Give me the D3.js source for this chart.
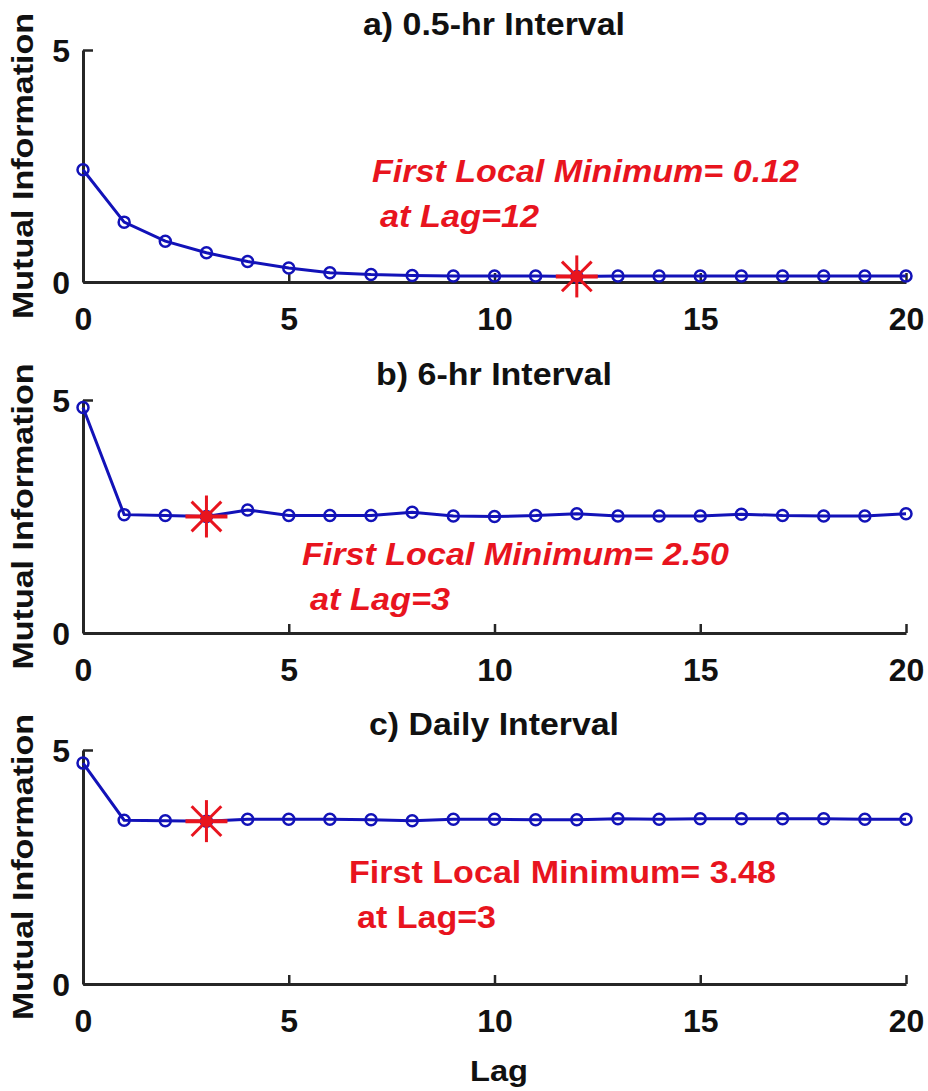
<!DOCTYPE html>
<html>
<head>
<meta charset="utf-8">
<script src="https://cdn.jsdelivr.net/npm/d3@7"></script>
<style>
  body { margin: 0; background: #fff; }
  text { font-family: "Liberation Sans", Arial, sans-serif; font-weight: bold; }
</style>
</head>
<body>
<script>
(function () {

    // lag values shared by all three panels
    let lags = d3.range(0, 21);

    // mutual information
    let miHalfHour = [2.42, 1.29, 0.88, 0.63, 0.44, 0.30, 0.20, 0.16, 0.14, 0.13, 0.13, 0.13, 0.12,
        0.13, 0.13, 0.13, 0.13, 0.13, 0.13, 0.13, 0.13];
    let miSixHour = [4.84, 2.54, 2.52, 2.50, 2.64, 2.52, 2.52, 2.52, 2.59, 2.51, 2.50, 2.52, 2.56,
        2.51, 2.51, 2.51, 2.55, 2.52, 2.51, 2.51, 2.56];
    let miDaily = [4.72, 3.50, 3.49, 3.48, 3.52, 3.52, 3.52, 3.51, 3.49, 3.52, 3.52, 3.51, 3.51,
        3.53, 3.52, 3.53, 3.53, 3.53, 3.53, 3.52, 3.52];

    let titles = ["a) 0.5-hr Interval", "b) 6-hr Interval", "c) Daily Interval"];
    let minLags = [12, 3, 3];
    let minLabels = ["First Local Minimum= 0.12", "First Local Minimum= 2.50", "First Local Minimum= 3.48"];
    let lagLabels = ["at Lag=12", "at Lag=3", "at Lag=3"];
    let xTicks = [0, 5, 10, 15, 20];
    let yTicks = [0, 5];

    let series = [miHalfHour, miSixHour, miDaily];

    // layout of each panel (pixel positions of the y=5 and y=0 lines)
    let panelTop = [50, 400, 750];
    let panelBottom = [282, 633, 984];
    let titleWidth = [262, 236, 250];
    let noteX = [372, 302, 349];
    let noteY = [182, 565, 883];
    let lagWidth = [159, 140, 139];
    let noteItalic = [true, true, false];

    let blue = "#1212b8";
    let red = "#e8141e";
    let axisColor = "#262626";

    let svg = d3.select("body").append("svg")
        .attr("width", 928)
        .attr("height", 1091);

    let xScale = d3.scaleLinear().domain([0, 20]).range([83, 906]);

    series.forEach((values, p) => {
        let yScale = d3.scaleLinear().domain([0, 5]).range([panelBottom[p], panelTop[p]]);
        let g = svg.append("g");

        // title
        g.append("text")
            .attr("x", 494)
            .attr("y", panelTop[p] - 15)
            .attr("text-anchor", "middle")
            .attr("font-size", 31)
            .attr("textLength", titleWidth[p])
            .attr("lengthAdjust", "spacingAndGlyphs")
            .attr("fill", "#111")
            .text(titles[p]);

        // axes, ticks point inward like matlab
        let xAxis = d3.axisBottom(xScale).tickValues(xTicks).tickSizeInner(-9).tickSizeOuter(0).tickPadding(25);
        let yAxis = d3.axisLeft(yScale).tickValues(yTicks).tickFormat(d3.format("d"))
            .tickSizeInner(-10).tickSizeOuter(0).tickPadding(13);

        let gx = g.append("g")
            .attr("transform", "translate(0," + panelBottom[p] + ")")
            .call(xAxis);
        let gy = g.append("g")
            .attr("transform", "translate(83,0)")
            .call(yAxis);

        [gx, gy].forEach((a) => {
            a.select(".domain").attr("stroke", axisColor).attr("stroke-width", 3);
            a.selectAll(".tick line").attr("stroke", axisColor).attr("stroke-width", 2.5);
            a.selectAll(".tick text")
                .attr("fill", "#111")
                .attr("font-size", 32)
                .attr("font-weight", "bold")
                .attr("font-family", "Liberation Sans, Arial, sans-serif");
        });
        gx.selectAll(".tick text").attr("dy", "0.72em");
        gy.selectAll(".tick text").attr("dy", "0.36em");

        // y label
        g.append("text")
            .attr("transform", "translate(33," + ((panelTop[p] + panelBottom[p]) / 2) + ") rotate(-90)")
            .attr("text-anchor", "middle")
            .attr("font-size", 30)
            .attr("textLength", 306)
            .attr("lengthAdjust", "spacingAndGlyphs")
            .attr("fill", "#111")
            .text("Mutual Information");

        // line and markers
        let line = d3.line()
            .x((d, i) => xScale(lags[i]))
            .y((d) => yScale(d));

        g.append("path")
            .datum(values)
            .attr("d", line)
            .attr("fill", "none")
            .attr("stroke", blue)
            .attr("stroke-width", 3);

        g.selectAll("circle.pt")
            .data(values)
            .enter()
            .append("circle")
            .attr("class", "pt")
            .attr("cx", (d, i) => xScale(lags[i]))
            .attr("cy", (d) => yScale(d))
            .attr("r", 5.5)
            .attr("fill", "none")
            .attr("stroke", blue)
            .attr("stroke-width", 2.5);

        // red asterisk at first local minimum
        let mx = xScale(minLags[p]);
        let my = yScale(values[minLags[p]]);
        let star = g.append("g").attr("transform", "translate(" + mx + "," + my + ")");
        let arm = 21;
        [0, 45, 90, 135].forEach((ang) => {
            let rad = ang * Math.PI / 180;
            star.append("line")
                .attr("x1", -arm * Math.cos(rad))
                .attr("y1", -arm * Math.sin(rad))
                .attr("x2", arm * Math.cos(rad))
                .attr("y2", arm * Math.sin(rad))
                .attr("stroke", red)
                .attr("stroke-width", ang == 0 ? 4 : 3);
        });
        star.append("circle").attr("r", 6).attr("fill", red);

        // annotation
        g.append("text")
            .attr("x", noteX[p])
            .attr("y", noteY[p])
            .attr("font-size", 32)
            .attr("font-style", noteItalic[p] ? "italic" : "normal")
            .attr("textLength", 427)
            .attr("lengthAdjust", "spacingAndGlyphs")
            .attr("fill", red)
            .text(minLabels[p]);

        g.append("text")
            .attr("x", noteX[p] + 8)
            .attr("y", noteY[p] + 45)
            .attr("font-size", 32)
            .attr("font-style", noteItalic[p] ? "italic" : "normal")
            .attr("textLength", lagWidth[p])
            .attr("lengthAdjust", "spacingAndGlyphs")
            .attr("fill", red)
            .text(lagLabels[p]);
    });

    // shared x label
    svg.append("text")
        .attr("x", 499)
        .attr("y", 1081)
        .attr("text-anchor", "middle")
        .attr("font-size", 30)
        .attr("textLength", 58)
        .attr("lengthAdjust", "spacingAndGlyphs")
        .attr("fill", "#111")
        .text("Lag");
})();
</script>
</body>
</html>
